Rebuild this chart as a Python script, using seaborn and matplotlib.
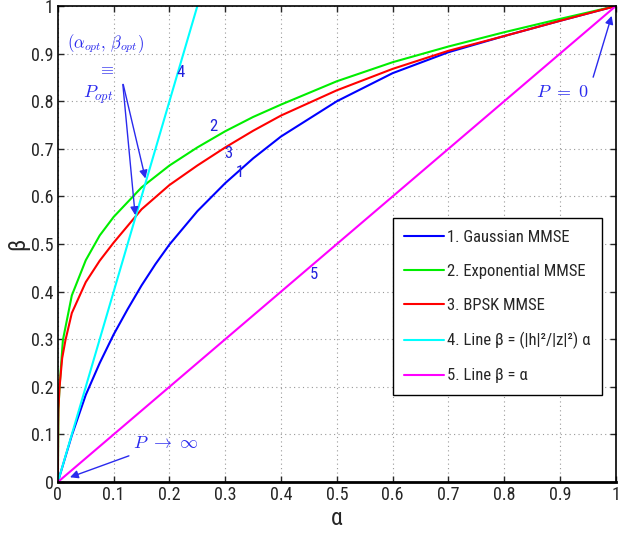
import numpy as np
import pandas as pd
import matplotlib
matplotlib.use("Agg")
import matplotlib.pyplot as plt
from matplotlib import font_manager
import seaborn as sns

# values
alpha_gauss = [0, 0.025, 0.05, 0.075, 0.1, 0.125, 0.15, 0.175, 0.2, 0.25, 0.3, 0.35, 0.4,
               0.5, 0.6, 0.7, 0.8, 0.9, 1.0]
beta_gauss = [0, 0.098, 0.183, 0.25, 0.31, 0.363, 0.413, 0.458, 0.499, 0.569, 0.628, 0.68, 0.726,
              0.80, 0.859, 0.903, 0.937, 0.969, 1.0]

alpha_exp = [0, 0.001, 0.003, 0.009, 0.025, 0.05, 0.075, 0.1, 0.15, 0.2, 0.25, 0.3, 0.35,
             0.4, 0.5, 0.6, 0.7, 0.8, 0.9, 1.0]
beta_exp = [0, 0.15, 0.2, 0.298, 0.392, 0.466, 0.518, 0.557, 0.619, 0.665, 0.703, 0.737, 0.767,
            0.793, 0.842, 0.882, 0.915, 0.945, 0.973, 1.0]

alpha_bpsk = [0, 0.0005, 0.001, 0.003, 0.0077, 0.0136, 0.025, 0.05, 0.075, 0.1, 0.15, 0.2,
              0.25, 0.3, 0.35, 0.4, 0.5, 0.6, 0.7, 0.8, 0.9, 1.0]
beta_bpsk = [0, 0.12, 0.155, 0.199, 0.26, 0.298, 0.355, 0.42, 0.465, 0.503, 0.573, 0.624,
             0.665, 0.703, 0.738, 0.77, 0.823, 0.868, 0.906, 0.937, 0.969, 1.0]

alpha_line4 = [0, 0.25]
beta_line4 = [0, 1.0]

alpha_line5 = [0, 1.0]
beta_line5 = [0, 1.0]

labels = ["1. Gaussian MMSE", "2. Exponential MMSE", "3. BPSK MMSE",
          "4. Line \u03b2 = (|h|\u00b2/|z|\u00b2) \u03b1", "5. Line \u03b2 = \u03b1"]
colors = ["#0000ff", "#00ee00", "#ff0000", "#00ffff", "#ff00ff"]

series = [(alpha_gauss, beta_gauss), (alpha_exp, beta_exp), (alpha_bpsk, beta_bpsk),
          (alpha_line4, beta_line4), (alpha_line5, beta_line5)]

sns.set_style("ticks")

# pick a narrow Helvetica-like face if one is installed
installed = {f.name for f in font_manager.fontManager.ttflist}
narrow = None
for name in ["Liberation Sans Narrow", "Roboto Condensed", "DejaVu Sans Condensed"]:
    if name in installed:
        narrow = name
        break
if narrow:
    plt.rcParams['font.family'] = [narrow, 'DejaVu Sans']
    fs = 12
else:
    plt.rcParams['font.family'] = ['Liberation Sans', 'DejaVu Sans']
    fs = 10.5
plt.rcParams['mathtext.fontset'] = 'cm'

fig = plt.figure(figsize=(6.29, 5.36), dpi=100)
ax = fig.add_axes([0.092, 0.1007, 0.887, 0.888])

for (a, b), lab, col in zip(series, labels, colors):
    df = pd.DataFrame({"alpha": a, "beta": b})
    sns.lineplot(data=df, x="alpha", y="beta", ax=ax, color=col, label=lab,
                 linewidth=1.5, sort=False, estimator=None)

ticks = np.round(np.arange(0, 1.01, 0.1), 1)
ticklabels = ["0", "0.1", "0.2", "0.3", "0.4", "0.5", "0.6", "0.7", "0.8", "0.9", "1"]
ax.set_xlim(0, 1)
ax.set_ylim(0, 1)
ax.set_xticks(ticks)
ax.set_yticks(ticks)
ax.set_xticklabels(ticklabels, fontsize=fs + 1)
ax.set_yticklabels(ticklabels, fontsize=fs + 1)
ax.tick_params(direction="in", top=True, right=True, length=4, width=1, pad=3)
ax.grid(True, linestyle=(0, (1, 3)), color="#999999", linewidth=0.8)
for s in ax.spines.values():
    s.set_visible(True)
    s.set_color("black")
    s.set_linewidth(1.2)
ax.spines["bottom"].set_linewidth(2)

ax.set_xlabel("\u03b1", fontsize=17, labelpad=2)
ax.set_ylabel("\u03b2", fontsize=17)
ax.yaxis.set_label_coords(-0.052, 0.5)

ann = "#2a2aee"
ax.text(0.086, 0.922, r"$(\alpha_{opt},\,\beta_{opt})$", color=ann, fontsize=12, ha="center", va="center")
ax.text(0.088, 0.866, r"$\equiv$", color=ann, fontsize=12, ha="center", va="center")
ax.text(0.072, 0.813, r"$P_{opt}$", color=ann, fontsize=13, ha="center", va="center")
arrow = dict(arrowstyle="-|>", color=ann, lw=1.0, mutation_scale=12)
ax.annotate("", xy=(0.158, 0.632), xytext=(0.116, 0.841), arrowprops=arrow)
ax.annotate("", xy=(0.139, 0.555), xytext=(0.116, 0.841), arrowprops=arrow)

ax.text(0.194, 0.082, r"$P\ \rightarrow\ \infty$", color=ann, fontsize=13, ha="center", va="center")
ax.annotate("", xy=(0.017, 0.008), xytext=(0.132, 0.057), arrowprops=arrow)

ax.text(0.905, 0.82, r"$P\ =\ 0$", color=ann, fontsize=13, ha="center", va="center")
ax.annotate("", xy=(0.994, 0.985), xytext=(0.958, 0.845), arrowprops=arrow)

num_pos = [(0.326, 0.651), (0.278, 0.748), (0.306, 0.691), (0.22, 0.861), (0.459, 0.437)]
for i, (x, y) in enumerate(num_pos):
    ax.text(x, y, str(i + 1), color="#2222dd", fontsize=fs, ha="center", va="center")

leg = ax.legend(loc="upper left", bbox_to_anchor=(0.60, 0.555), fontsize=fs,
                frameon=True, fancybox=False, framealpha=1, edgecolor="black",
                labelspacing=1.15, handlelength=2.4, handletextpad=0.15,
                borderpad=0.7, borderaxespad=0)
leg.get_frame().set_linewidth(1.0)

fig.savefig("out.png", dpi=100)
